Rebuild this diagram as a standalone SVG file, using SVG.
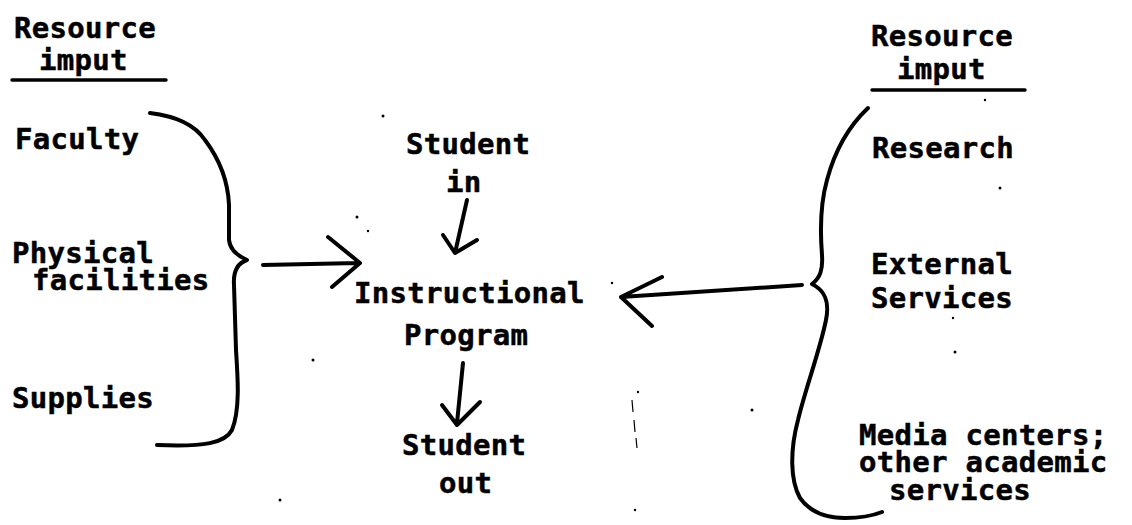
<svg xmlns="http://www.w3.org/2000/svg" width="1132" height="525" viewBox="0 0 1132 525">
<style>
.t{font-family:"DejaVu Sans Mono","Liberation Mono",monospace;font-weight:bold;font-size:29px;letter-spacing:0.3px;fill:#000;stroke:#000;stroke-width:0.5}
.ln{fill:none;stroke:#000;stroke-width:4;stroke-linecap:round;stroke-linejoin:round}
.ul{stroke:#000;stroke-width:3.5;stroke-linecap:round}
</style>
<rect width="1132" height="525" fill="#fff"/>
<g id="left-inputs">
<text class="t" x="14" y="38">Resource</text>
<text class="t" x="39" y="70">imput</text>
<line class="ul" x1="12" y1="80" x2="166" y2="80"/>
<text class="t" x="15" y="149">Faculty</text>
<text class="t" x="12" y="263">Physical</text>
<text class="t" x="32" y="290">facilities</text>
<text class="t" x="12" y="408">Supplies</text>
<path class="ln" d="M150,113 C175,116 195,125 205,140 C220,160 228,180 229,205 L229,240 C230,250 238,256 247,260 C238,263 233,270 234,285 L236,350 C238,380 240,410 232,430 C225,443 205,447 157,445"/>
</g>
<g id="student-in">
<text class="t" x="406" y="154">Student</text>
<text class="t" x="446" y="192">in</text>
</g>
<g id="program">
<text class="t" x="354" y="303">Instructional</text>
<text class="t" x="404" y="345">Program</text>
</g>
<g id="student-out">
<text class="t" x="402" y="455">Student</text>
<text class="t" x="439" y="493">out</text>
</g>
<g id="right-inputs">
<text class="t" x="871" y="46">Resource</text>
<text class="t" x="897" y="79">imput</text>
<line class="ul" x1="872" y1="90" x2="1025" y2="90"/>
<text class="t" x="872" y="158">Research</text>
<text class="t" x="871" y="274">External</text>
<text class="t" x="871" y="308">Services</text>
<text class="t" x="859" y="445">Media centers;</text>
<text class="t" x="859" y="472">other academic</text>
<text class="t" x="889" y="500">services</text>
<path class="ln" d="M868,108 C850,125 835,150 827,180 C820,205 820,230 822,255 C823,270 820,278 812,284 C824,290 830,300 826,320 C820,350 805,390 798,420 C790,450 790,480 800,498 C810,512 825,518 845,518 C860,518 872,516 882,512"/>
</g>
<g id="connectors">
<path class="ln" d="M263,265 L358,263 M328,237 L360,263 L332,287"/>
<path class="ln" d="M467,200 L455,253 M443,235 L455,253 L477,240"/>
<path class="ln" d="M463,363 L457,423 M442,405 L457,425 L480,402"/>
<path class="ln" d="M802,285 L621,297 M662,277 L621,297 L652,326"/>
</g>
<g id="specks" fill="#000">
<circle cx="383" cy="116" r="1.5"/>
<circle cx="357" cy="217" r="1.5"/>
<circle cx="368" cy="231" r="1.2"/>
<circle cx="313" cy="360" r="1.5"/>
<circle cx="280" cy="500" r="1.5"/>
<circle cx="638" cy="392" r="1.2"/>
<circle cx="612" cy="283" r="1.2"/>
<circle cx="1000" cy="188" r="1.5"/>
<circle cx="985" cy="100" r="1.2"/>
<circle cx="955" cy="352" r="1.5"/>
<circle cx="953" cy="318" r="1.2"/>
<circle cx="752" cy="410" r="1.5"/>
<circle cx="635" cy="510" r="1.2"/>
<path d="M632,400 L633,412 M634,420 L635,432 M636,438 L637,448" stroke="#000" stroke-width="1.2" fill="none"/>
</g>
</svg>
